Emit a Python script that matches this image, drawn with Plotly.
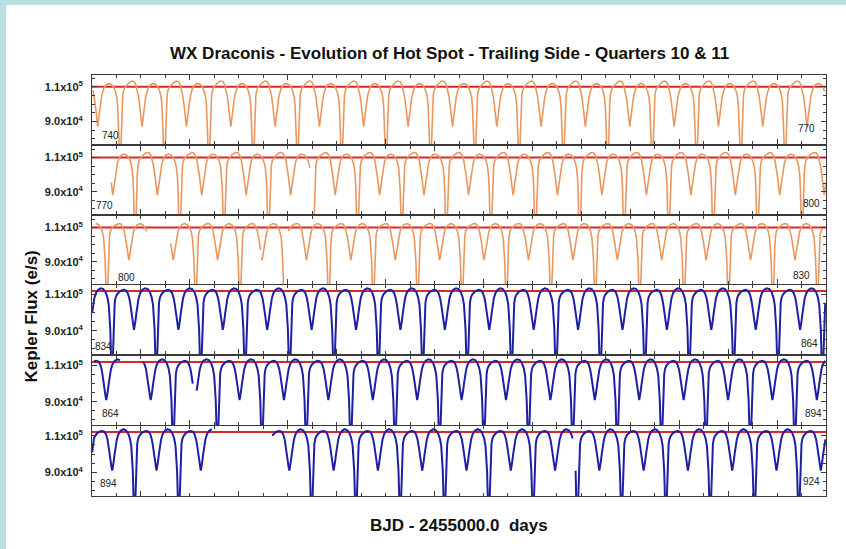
import plotly.graph_objects as go

# ---------------------------------------------------------------------------
# WX Draconis, Kepler long-cadence flux, six 30-day strips (Q10 orange, Q11 blue)
# ---------------------------------------------------------------------------
panel_start = [740, 770, 800, 834, 864, 894]
panel_days = 30
corner_left = ["740", "770", "800", "834", "864", "894"]
corner_right = ["770", "800", "830", "864", "894", "924"]

# times of primary minimum (BJD - 2455000) in each strip
primary_min_740 = [739.33, 741.14, 742.95, 744.77, 746.58, 748.39, 750.20, 752.01, 753.83,
                   755.64, 757.45, 759.26, 761.07, 762.89, 764.70, 766.51, 768.32, 770.13]
primary_min_770 = [769.94, 771.76, 773.58, 775.39, 777.21, 779.03, 780.85, 782.66, 784.48,
                   786.30, 788.12, 789.93, 791.75, 793.57, 795.39, 797.20, 799.02, 800.84]
primary_min_800 = [798.79, 800.60, 802.41, 804.23, 806.04, 807.86, 809.67, 811.49, 813.30,
                   815.12, 816.93, 818.75, 820.56, 822.38, 824.19, 826.01, 827.82, 829.64, 831.45]
primary_min_834 = [833.00, 834.81, 836.62, 838.44, 840.25, 842.07, 843.88, 845.70, 847.51,
                   849.33, 851.14, 852.96, 854.77, 856.59, 858.40, 860.22, 862.03, 863.85, 865.66]
primary_min_864 = [863.68, 865.49, 867.31, 869.12, 870.94, 872.75, 874.57, 876.38, 878.20,
                   880.01, 881.83, 883.64, 885.46, 887.27, 889.09, 890.90, 892.72, 894.53]
primary_min_894 = [893.92, 895.73, 897.54, 899.35, 901.16, 902.97, 904.78, 906.59, 908.40,
                   910.21, 912.02, 913.83, 915.64, 917.45, 919.26, 921.07, 922.88, 924.69]

# orbital phase grid of one cycle (0 = primary minimum, 0.5 = secondary minimum)
cycle_phase = [0.000, 0.015, 0.026, 0.038, 0.050, 0.065, 0.085, 0.115, 0.160, 0.220,
               0.270, 0.320, 0.360, 0.395, 0.420, 0.445, 0.465, 0.480, 0.490, 0.500,
               0.510, 0.520, 0.535, 0.555, 0.580, 0.605, 0.640, 0.690, 0.750, 0.810,
               0.860, 0.900, 0.930, 0.950, 0.965, 0.978, 0.990]

# cycle flux (e/s) on that grid, one profile per strip
cycle_flux_740 = [50000, 64000, 77000, 92000, 100000, 105000, 108000, 109600, 111000, 112600,
                  113300, 113000, 111200, 108000, 104500, 99500, 95000, 91500, 89200, 87000,
                  89200, 91500, 95000, 99500, 103500, 106500, 109200, 111200, 111900, 111300,
                  109800, 107300, 104000, 99000, 91000, 80000, 64000]
cycle_flux_770 = [50000, 64000, 77000, 92000, 100000, 105000, 108000, 109600, 111000, 112400,
                  113000, 112700, 111000, 108000, 104600, 99800, 95400, 92000, 90000, 88000,
                  90000, 92000, 95400, 99800, 103800, 106900, 109600, 111400, 112100, 111500,
                  110000, 107500, 104000, 99000, 91000, 80000, 64000]
cycle_flux_800 = [50000, 64000, 77000, 92000, 100000, 105000, 108000, 109500, 110800, 111900,
                  112400, 112100, 110600, 108000, 105000, 100800, 97000, 94000, 92400, 91000,
                  92400, 94000, 97000, 100800, 104500, 107400, 109900, 111600, 112400, 111900,
                  110400, 107800, 104200, 99000, 91000, 80000, 64000]
cycle_flux_834 = [50000, 64000, 77000, 92000, 101000, 105500, 108300, 110000, 111300, 112300,
                  112600, 112200, 110800, 108000, 104500, 99800, 95800, 93000, 91800, 90500,
                  91800, 93000, 95800, 99800, 104500, 108000, 110800, 112700, 113500, 113000,
                  111300, 108500, 104500, 99000, 91000, 80000, 64000]
cycle_flux_864 = [50000, 64000, 77000, 92000, 101000, 105500, 108300, 110000, 111300, 112300,
                  112600, 112200, 110800, 108000, 104500, 100000, 96200, 93500, 92300, 91000,
                  92300, 93500, 96200, 100000, 104500, 108000, 110800, 112700, 113500, 113000,
                  111300, 108500, 104500, 99000, 91000, 80000, 64000]
cycle_flux_894 = [50000, 64000, 77000, 92000, 101000, 105500, 108300, 110000, 111300, 112300,
                  112600, 112200, 110800, 108000, 104500, 100000, 96200, 93500, 92300, 91000,
                  92300, 93500, 96200, 100000, 104500, 108000, 110800, 112700, 113600, 113000,
                  111300, 108500, 104500, 99000, 91000, 80000, 64000]

# span covered by data and the interruptions inside it
data_window = [(740.0, 770.0), (770.78, 800.0), (800.04, 830.0),
               (834.0, 864.0), (864.0, 894.0), (894.0, 924.0)]
data_gaps_740 = []
data_gaps_770 = [(778.93, 779.02)]
data_gaps_800 = [(802.24, 803.19), (806.89, 806.93), (807.92, 807.98)]
data_gaps_834 = []
data_gaps_864 = [(865.21, 866.03), (868.15, 868.26)]
data_gaps_894 = [(898.96, 901.34), (913.66, 913.74)]

# horizontal reference level drawn in each strip
reference_flux = [110000, 110000, 110000, 112000, 112000, 112000]

flux_range_q10 = [77000, 116800]
flux_range_q11 = [77200, 115300]

primary_mins = [primary_min_740, primary_min_770, primary_min_800,
                primary_min_834, primary_min_864, primary_min_894]
cycle_fluxes = [cycle_flux_740, cycle_flux_770, cycle_flux_800,
                cycle_flux_834, cycle_flux_864, cycle_flux_894]
gap_lists = [data_gaps_740, data_gaps_770, data_gaps_800,
             data_gaps_834, data_gaps_864, data_gaps_894]

# ---------------------------------------------------------------------------
# page geometry (pixels) -> paper coordinates
# ---------------------------------------------------------------------------
W, H = 846, 549
PL, PR, PT, PB = 92, 826, 75, 496
panel_px = [(75, 144), (146, 214), (216, 284), (285, 354), (356, 425), (426, 496)]


def px_x(x):
    return (x - PL) / (PR - PL)


def px_y(y):
    return (PB - y) / (PB - PT)


FONT = "Liberation Sans, Arial, sans-serif"
ORANGE = "#EA975F"
BLUE = "#1F1FA3"
RED = "#D42A2A"
FRAME = "#3a3a3a"

fig = go.Figure()


def build_series(mins, flux, window, gaps):
    xs, ys = [], []
    broken = False
    for t0, t1 in zip(mins[:-1], mins[1:]):
        for p, f in zip(cycle_phase, flux):
            t = t0 + p * (t1 - t0)
            inside = window[0] <= t <= window[1] and not any(a <= t <= b for a, b in gaps)
            if inside:
                xs.append(t)
                ys.append(f)
                broken = False
            elif not broken and xs:
                xs.append(None)
                ys.append(None)
                broken = True
    return xs, ys


layout_axes = {}
for i in range(6):
    n = i + 1
    s = panel_start[i]
    q11 = i >= 3
    # reference level first, light curve over it
    fig.add_trace(go.Scatter(
        x=[s, s + panel_days], y=[reference_flux[i], reference_flux[i]],
        mode="lines", xaxis=f"x{n}", yaxis=f"y{n}",
        line=dict(color=RED, width=2), hoverinfo="skip", showlegend=False,
    ))
    xs, ys = build_series(primary_mins[i], cycle_fluxes[i], data_window[i], gap_lists[i])
    fig.add_trace(go.Scatter(
        x=xs, y=ys, mode="lines", xaxis=f"x{n}", yaxis=f"y{n}",
        line=dict(color=BLUE if q11 else ORANGE, width=2.0 if q11 else 1.6),
        hoverinfo="skip", showlegend=False,
    ))

    top, bot = panel_px[i]
    layout_axes[f"xaxis{n}"] = dict(
        domain=[0, 1], range=[s, s + panel_days], anchor=f"y{n}",
        showline=True, linecolor=FRAME, linewidth=1, mirror="allticks",
        ticks="inside", tick0=0, dtick=4, ticklen=5, tickcolor=FRAME, tickwidth=1,
        minor=dict(dtick=1, tick0=0, ticks="inside", ticklen=3, tickcolor=FRAME),
        showticklabels=False, showgrid=False, zeroline=False,
    )
    layout_axes[f"yaxis{n}"] = dict(
        domain=[px_y(bot), px_y(top)],
        range=flux_range_q11 if q11 else flux_range_q10, anchor=f"x{n}",
        showline=True, linecolor=FRAME, linewidth=1, mirror="allticks",
        ticks="inside", ticklen=5, tickcolor=FRAME, tickwidth=1,
        tickmode="array", tickvals=[90000, 110000],
        ticktext=["<b>9.0x10<sup>4</sup></b>", "<b>1.1x10<sup>5</sup></b>"],
        tickfont=dict(family=FONT, size=11, color="#222"),
        ticklabelstandoff=6,
        minor=dict(tickmode="linear", tick0=0, dtick=5000, ticks="inside",
                   ticklen=3, tickcolor=FRAME),
        showgrid=False, zeroline=False,
    )

# corner day labels
left_pos = [(100, 135.5), (94, 205), (116, 277), (93, 347), (100, 413), (98, 483)]
right_pos = [(817, 128.5), (822, 203), (812, 275), (820, 343), (824, 413), (822, 481)]
annotations = []
for i in range(6):
    annotations.append(dict(
        text=corner_left[i], xref="paper", yref="paper",
        x=px_x(left_pos[i][0]), y=px_y(left_pos[i][1]),
        xanchor="left", yanchor="middle", showarrow=False,
        font=dict(family=FONT, size=10, color="#222"),
    ))
    annotations.append(dict(
        text=corner_right[i], xref="paper", yref="paper",
        x=px_x(right_pos[i][0]), y=px_y(right_pos[i][1]),
        xanchor="right", yanchor="middle", showarrow=False,
        font=dict(family=FONT, size=10, color="#222"),
    ))

annotations.append(dict(
    text="<b>WX Draconis - Evolution of Hot Spot - Trailing Side - Quarters 10 &amp; 11</b>",
    xref="paper", yref="paper", x=px_x(449), y=px_y(53),
    xanchor="center", yanchor="middle", showarrow=False,
    font=dict(family=FONT, size=17, color="#111"),
))
annotations.append(dict(
    text="<b>BJD - 2455000.0&nbsp; days</b>",
    xref="paper", yref="paper", x=px_x(459), y=px_y(525),
    xanchor="center", yanchor="middle", showarrow=False,
    font=dict(family=FONT, size=17, color="#111"),
))
annotations.append(dict(
    text="<b>Kepler Flux (e/s)</b>",
    xref="paper", yref="paper", x=px_x(31), y=px_y(316.5),
    xanchor="center", yanchor="middle", textangle=-90, showarrow=False,
    font=dict(family=FONT, size=17, color="#111"),
))

# light-blue page edge with the white sheet laid over it
shapes = [dict(
    type="rect", xref="paper", yref="paper", layer="below",
    x0=px_x(6), x1=px_x(W + 20), y0=px_y(H + 20), y1=px_y(5),
    fillcolor="white", line=dict(width=0),
)]

fig.update_layout(
    width=W, height=H,
    margin=dict(l=PL, r=W - PR, t=PT, b=H - PB, pad=0),
    paper_bgcolor="#BCDFE3", plot_bgcolor="white",
    font=dict(family=FONT, color="#222"),
    annotations=annotations, shapes=shapes,
    showlegend=False,
    **layout_axes,
)

fig.write_html("out.html", include_plotlyjs=True, config=dict(displayModeBar=False))
